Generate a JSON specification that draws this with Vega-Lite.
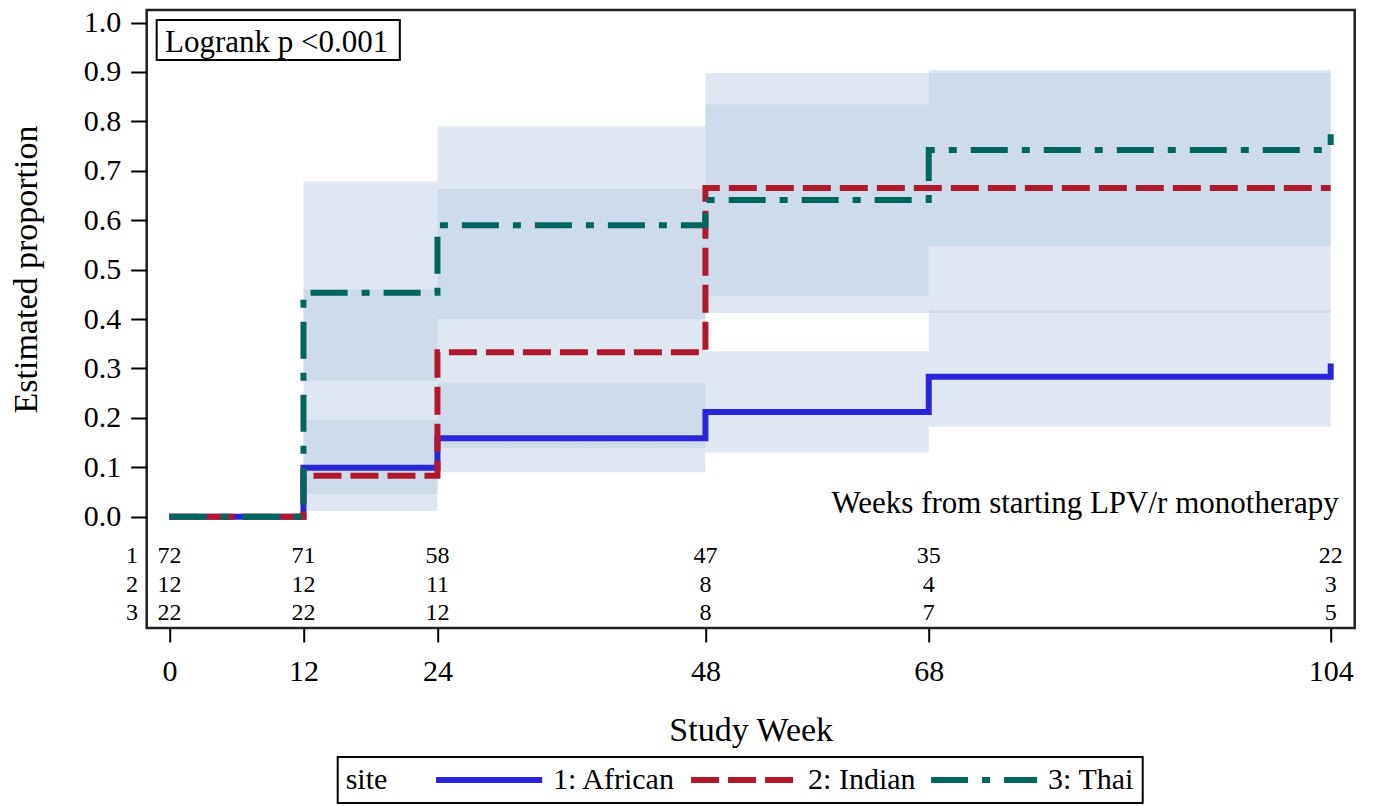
{
  "$schema": "https://vega.github.io/schema/vega-lite/v6.json",
  "width": 1208,
  "height": 618,
  "autosize": {"type": "none"},
  "padding": {"left": 146.7, "top": 10, "right": 19.3, "bottom": 178},
  "config": {
    "font": "Liberation Serif",
    "view": {"stroke": "#222222", "strokeWidth": 2.5},
    "axis": {"domain": false, "grid": false, "tickColor": "#000000", "tickWidth": 2, "labelColor": "#000000", "titleColor": "#000000", "titleFontWeight": "normal", "labelFont": "Liberation Serif", "titleFont": "Liberation Serif"},
    "legend": {"strokeWidth": 2}
  },
  "datasets": {
    "curves": [
      {"site": "1: African", "week": 0, "p": 0},
      {"site": "1: African", "week": 12, "p": 0.099},
      {"site": "1: African", "week": 24, "p": 0.159},
      {"site": "1: African", "week": 48, "p": 0.212},
      {"site": "1: African", "week": 68, "p": 0.283},
      {"site": "1: African", "week": 104, "p": 0.31},
      {"site": "2: Indian", "week": 0, "p": 0},
      {"site": "2: Indian", "week": 12, "p": 0.083},
      {"site": "2: Indian", "week": 24, "p": 0.333},
      {"site": "2: Indian", "week": 48, "p": 0.665},
      {"site": "2: Indian", "week": 104, "p": 0.665},
      {"site": "3: Thai", "week": 0, "p": 0},
      {"site": "3: Thai", "week": 12, "p": 0.453},
      {"site": "3: Thai", "week": 24, "p": 0.59},
      {"site": "3: Thai", "week": 48, "p": 0.641},
      {"site": "3: Thai", "week": 68, "p": 0.742},
      {"site": "3: Thai", "week": 104, "p": 0.774}
    ],
    "bands": [
      {"site": "1: African", "start": 12, "end": 24, "lower": 0.046, "upper": 0.196},
      {"site": "1: African", "start": 24, "end": 48, "lower": 0.090, "upper": 0.271},
      {"site": "1: African", "start": 48, "end": 68, "lower": 0.130, "upper": 0.335},
      {"site": "1: African", "start": 68, "end": 104, "lower": 0.182, "upper": 0.418},
      {"site": "2: Indian", "start": 12, "end": 24, "lower": 0.0115, "upper": 0.460},
      {"site": "2: Indian", "start": 24, "end": 48, "lower": 0.139, "upper": 0.663},
      {"site": "2: Indian", "start": 48, "end": 68, "lower": 0.412, "upper": 0.898},
      {"site": "2: Indian", "start": 68, "end": 104, "lower": 0.412, "upper": 0.898},
      {"site": "3: Thai", "start": 12, "end": 24, "lower": 0.275, "upper": 0.679},
      {"site": "3: Thai", "start": 24, "end": 48, "lower": 0.400, "upper": 0.790},
      {"site": "3: Thai", "start": 48, "end": 68, "lower": 0.446, "upper": 0.834},
      {"site": "3: Thai", "start": 68, "end": 104, "lower": 0.548, "upper": 0.904}
    ],
    "risk": [
      {"site": "1: African", "week": 0, "n": 72},
      {"site": "1: African", "week": 12, "n": 71},
      {"site": "1: African", "week": 24, "n": 58},
      {"site": "1: African", "week": 48, "n": 47},
      {"site": "1: African", "week": 68, "n": 35},
      {"site": "1: African", "week": 104, "n": 22},
      {"site": "2: Indian", "week": 0, "n": 12},
      {"site": "2: Indian", "week": 12, "n": 12},
      {"site": "2: Indian", "week": 24, "n": 11},
      {"site": "2: Indian", "week": 48, "n": 8},
      {"site": "2: Indian", "week": 68, "n": 4},
      {"site": "2: Indian", "week": 104, "n": 3},
      {"site": "3: Thai", "week": 0, "n": 22},
      {"site": "3: Thai", "week": 12, "n": 22},
      {"site": "3: Thai", "week": 24, "n": 12},
      {"site": "3: Thai", "week": 48, "n": 8},
      {"site": "3: Thai", "week": 68, "n": 7},
      {"site": "3: Thai", "week": 104, "n": 5}
    ]
  },
  "layer": [
    {
      "data": {"name": "bands"},
      "mark": {"type": "rect", "color": "#b8cce2", "opacity": 0.45},
      "encoding": {
        "x": {"field": "start", "type": "quantitative",
          "scale": {"domain": [-2.04, 106.15], "nice": false, "zero": false},
          "axis": {"values": [0, 12, 24, 48, 68, 104], "title": "Study Week", "tickSize": 14, "labelFontSize": 30, "labelBaseline": "alphabetic", "labelPadding": 38, "titleFontSize": 34, "titleBaseline": "alphabetic", "titleY": 112}},
        "x2": {"field": "end"},
        "y": {"field": "lower", "type": "quantitative",
          "scale": {"domain": [-0.2252, 1.0253], "nice": false, "zero": false},
          "axis": {"values": [0, 0.1, 0.2, 0.3, 0.4, 0.5, 0.6, 0.7, 0.8, 0.9, 1.0], "format": ".1f", "title": "Estimated proportion", "tickSize": 16, "labelFontSize": 30, "labelPadding": 10, "titleFontSize": 34, "titleBaseline": "alphabetic", "titleX": -110, "titleY": 259}},
        "y2": {"field": "upper"}
      }
    },
    {
      "data": {"name": "curves"},
      "mark": {"type": "line", "interpolate": "step-after", "strokeWidth": 6},
      "encoding": {
        "x": {"field": "week", "type": "quantitative"},
        "y": {"field": "p", "type": "quantitative"},
        "color": {"field": "site", "type": "nominal",
          "scale": {"domain": ["1: African", "2: Indian", "3: Thai"], "range": ["#2A25D9", "#B2182B", "#01665E"]},
          "legend": {"title": "site", "orient": "none", "legendX": 191, "legendY": 747, "direction": "horizontal", "titleOrient": "left", "titleFontSize": 30, "titleFontWeight": "normal", "titleColor": "#000000", "titlePadding": 44, "labelFontSize": 30, "labelColor": "#000000", "labelOffset": 49, "columnPadding": 3, "symbolType": "M-5,0H5", "symbolSize": 450, "symbolOffset": 42.4, "symbolStrokeWidth": 6, "strokeColor": "#000000", "padding": 8}},
        "strokeDash": {"field": "site", "type": "nominal",
          "scale": {"domain": ["1: African", "2: Indian", "3: Thai"], "range": [[1, 0], [28, 9], [37, 14, 8, 14]]},
          "legend": {"title": "site"}}
      }
    },
    {
      "data": {"name": "risk"},
      "transform": [{"filter": "datum.site == '1: African'"}],
      "mark": {"type": "text", "fontSize": 24, "align": "center", "baseline": "alphabetic", "color": "#000000"},
      "encoding": {
        "x": {"field": "week", "type": "quantitative"},
        "y": {"datum": -0.0943, "type": "quantitative"},
        "text": {"field": "n", "type": "quantitative"}
      }
    },
    {
      "data": {"name": "risk"},
      "transform": [{"filter": "datum.site == '2: Indian'"}],
      "mark": {"type": "text", "fontSize": 24, "align": "center", "baseline": "alphabetic", "color": "#000000"},
      "encoding": {
        "x": {"field": "week", "type": "quantitative"},
        "y": {"datum": -0.1518, "type": "quantitative"},
        "text": {"field": "n", "type": "quantitative"}
      }
    },
    {
      "data": {"name": "risk"},
      "transform": [{"filter": "datum.site == '3: Thai'"}],
      "mark": {"type": "text", "fontSize": 24, "align": "center", "baseline": "alphabetic", "color": "#000000"},
      "encoding": {
        "x": {"field": "week", "type": "quantitative"},
        "y": {"datum": -0.2091, "type": "quantitative"},
        "text": {"field": "n", "type": "quantitative"}
      }
    },
    {
      "data": {"values": [{"label": "1", "row": -0.0943}, {"label": "2", "row": -0.1518}, {"label": "3", "row": -0.2091}]},
      "mark": {"type": "text", "fontSize": 24, "align": "right", "baseline": "alphabetic", "color": "#000000"},
      "encoding": {
        "x": {"datum": -2.82, "type": "quantitative"},
        "y": {"field": "row", "type": "quantitative"},
        "text": {"field": "label", "type": "nominal"}
      }
    },
    {
      "data": {"values": [{"label": "Logrank p <0.001"}]},
      "mark": {"type": "rect", "fill": "#ffffff", "stroke": "#000000", "strokeWidth": 2},
      "encoding": {
        "x": {"datum": -1.146, "type": "quantitative"},
        "x2": {"datum": 20.63},
        "y": {"datum": 1.005, "type": "quantitative"},
        "y2": {"datum": 0.924}
      }
    },
    {
      "data": {"values": [{"label": "Logrank p <0.001"}]},
      "mark": {"type": "text", "fontSize": 31, "align": "left", "baseline": "alphabetic", "color": "#000000"},
      "encoding": {
        "x": {"datum": -0.4, "type": "quantitative"},
        "y": {"datum": 0.94, "type": "quantitative"},
        "text": {"field": "label", "type": "nominal"}
      }
    },
    {
      "data": {"values": [{"label": "Weeks from starting LPV/r monotherapy"}]},
      "mark": {"type": "text", "fontSize": 31, "align": "right", "baseline": "alphabetic", "color": "#000000"},
      "encoding": {
        "x": {"datum": 104.72, "type": "quantitative"},
        "y": {"datum": 0.0075, "type": "quantitative"},
        "text": {"field": "label", "type": "nominal"}
      }
    }
  ]
}
